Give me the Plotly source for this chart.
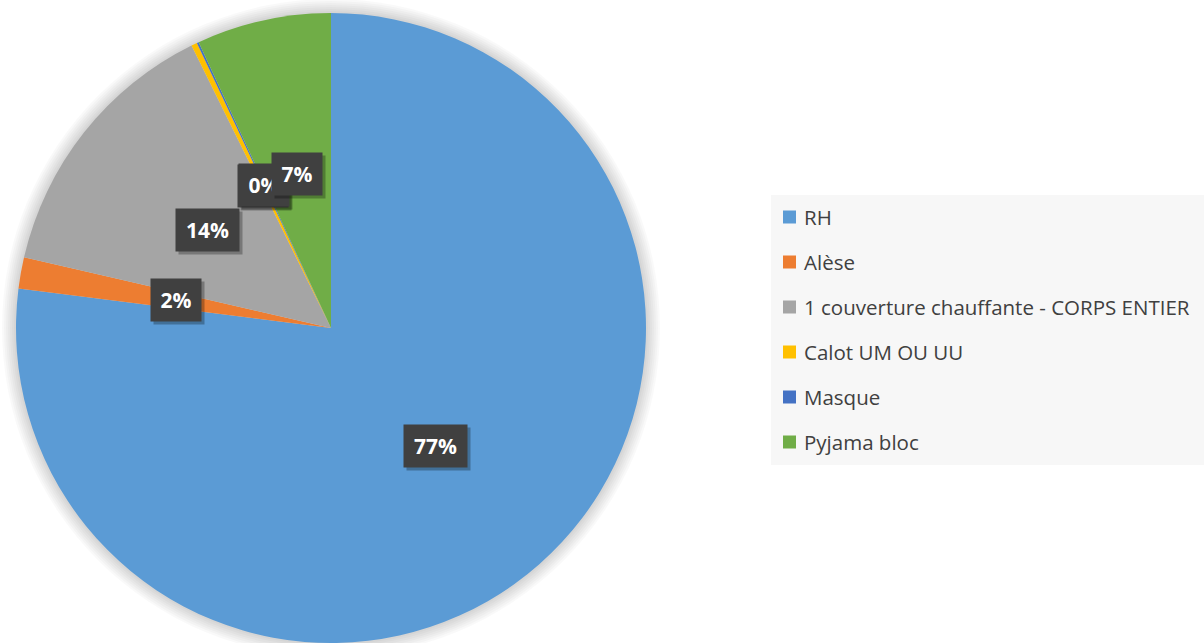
import math
import plotly.graph_objects as go

# ---- data ----
labels = ["RH", "Alèse", "1 couverture chauffante - CORPS ENTIER",
          "Calot UM OU UU", "Masque", "Pyjama bloc"]
values = [77.0, 1.6, 14.1, 0.3, 0.1, 6.9]
colors = ["#5B9BD5", "#ED7D31", "#A5A5A5", "#FFC000", "#4472C4", "#70AD47"]

W, H = 1204, 643
CX, CY, R = 331, 328, 315  # pie centre / radius in pixels


def px_x(x):
    return x / W


def px_y(y):
    return 1 - y / H


fig = go.Figure()
fig.add_trace(go.Pie(
    labels=labels, values=values, sort=False, direction="clockwise",
    rotation=0, marker=dict(colors=colors, line=dict(width=0)),
    textinfo="none", hoverinfo="label+percent", showlegend=False,
    domain=dict(x=[px_x(CX - R), px_x(CX + R)], y=[px_y(CY + R), px_y(CY - R)]),
))

shapes = []
# soft shadow behind the pie
for k in range(1, 8):
    rr = R + k * 2
    shapes.append(dict(type="circle", xref="paper", yref="paper", layer="below",
                       x0=px_x(CX - rr), x1=px_x(CX + rr),
                       y0=px_y(CY + rr), y1=px_y(CY - rr),
                       fillcolor="rgba(0,0,0,0.022)", line=dict(width=0)))

annotations = []
total = sum(values)
cum = 0.0
for lab, v in zip(labels, values):
    mid = (cum + v / 2) / total * 2 * math.pi
    cum += v
    lx = CX + 0.5 * R * math.sin(mid)
    ly = CY - 0.5 * R * math.cos(mid)
    pct = f"{round(v / total * 100):.0f}%"
    bw = 13 * len(pct) + 6
    common = dict(x=px_x(lx), y=px_y(ly), xref="paper", yref="paper",
                  xanchor="center", yanchor="middle", showarrow=False,
                  borderpad=9, width=bw, height=24, align="center", valign="middle")
    # shadow of the label box (no text)
    annotations.append(dict(common, text=" ", xshift=3, yshift=-3,
                            font=dict(family="Open Sans", size=21, color="rgba(0,0,0,0)"),
                            bgcolor="rgba(0,0,0,0.28)"))
    annotations.append(dict(common, text=f"<b>{pct}</b>",
                            font=dict(family="Open Sans", size=21, color="white"),
                            bgcolor="#404040"))

# legend (manual to match spacing)
LEG_X0, LEG_X1, LEG_Y0, LEG_Y1 = 771, 1204, 195, 465
shapes.append(dict(type="rect", xref="paper", yref="paper", layer="below",
                   x0=px_x(LEG_X0), x1=px_x(LEG_X1), y0=px_y(LEG_Y1), y1=px_y(LEG_Y0),
                   fillcolor="#F7F7F7", line=dict(width=0)))
for i, (lab, col) in enumerate(zip(labels, colors)):
    yc = 217 + i * 45
    shapes.append(dict(type="rect", xref="paper", yref="paper",
                       x0=px_x(783), x1=px_x(796), y0=px_y(yc + 6.5), y1=px_y(yc - 6.5),
                       fillcolor=col, line=dict(width=0)))
    annotations.append(dict(x=px_x(802), y=px_y(yc), xref="paper", yref="paper",
                            xanchor="left", yanchor="middle", text=lab, showarrow=False,
                            font=dict(family="Open Sans", size=20.5, color="#404040")))

fig.update_layout(width=W, height=H, margin=dict(l=0, r=0, t=0, b=0),
                  paper_bgcolor="white", plot_bgcolor="white",
                  shapes=shapes, annotations=annotations, showlegend=False)

fig.write_html("out.html", config={"displayModeBar": False},
               post_script="document.body.style.margin='0';document.body.style.overflow='hidden';")
